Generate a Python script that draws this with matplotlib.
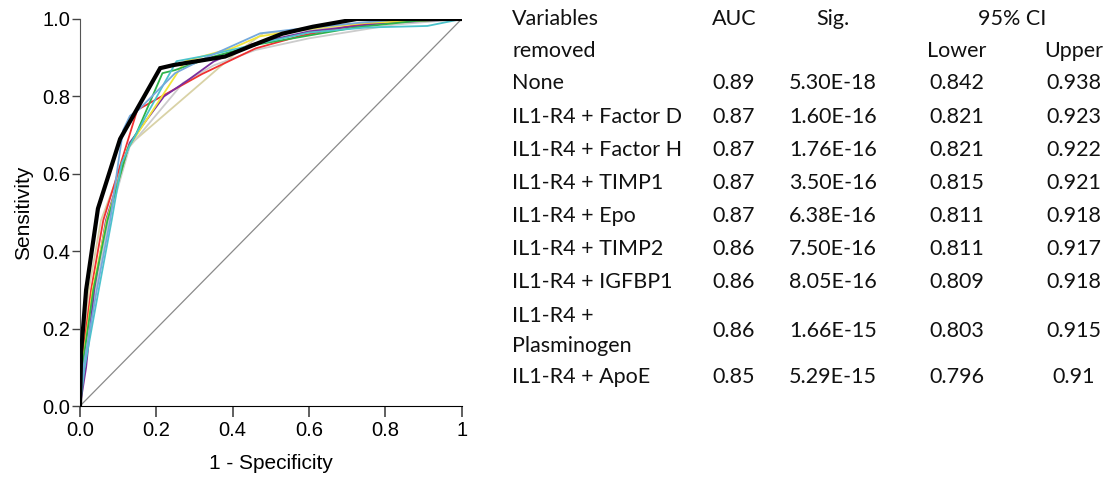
import matplotlib
matplotlib.use("Agg")
import matplotlib.pyplot as plt

# ---------------- data ----------------
variables = ["None", "IL1-R4 + Factor D", "IL1-R4 + Factor H", "IL1-R4 + TIMP1",
             "IL1-R4 + Epo", "IL1-R4 + TIMP2", "IL1-R4 + IGFBP1",
             "IL1-R4 +\nPlasminogen", "IL1-R4 + ApoE"]
auc = ["0.89", "0.87", "0.87", "0.87", "0.87", "0.86", "0.86", "0.86", "0.85"]
sig = ["5.30E-18", "1.60E-16", "1.76E-16", "3.50E-16", "6.38E-16", "7.50E-16",
       "8.05E-16", "1.66E-15", "5.29E-15"]
ci_lower = ["0.842", "0.821", "0.821", "0.815", "0.811", "0.811", "0.809", "0.803", "0.796"]
ci_upper = ["0.938", "0.923", "0.922", "0.921", "0.918", "0.917", "0.918", "0.915", "0.91"]

fpr_none = [0, 0.003, 0.016, 0.047, 0.105, 0.21, 0.245, 0.38, 0.46, 0.53, 0.61, 0.725, 1]
tpr_none = [0, 0.14, 0.30, 0.51, 0.69, 0.873, 0.881, 0.903, 0.935, 0.962, 0.98, 1.0, 1]

fpr_green = [0, 0.006, 0.035, 0.072, 0.125, 0.148, 0.216, 0.249, 0.35, 0.47, 0.72, 0.88, 1]
tpr_green = [0, 0.10, 0.30, 0.48, 0.665, 0.705, 0.86, 0.868, 0.903, 0.935, 0.978, 0.995, 1]

fpr_purple = [0, 0.016, 0.037, 0.068, 0.13, 0.22, 0.28, 0.35, 0.45, 0.6, 0.8, 1]
tpr_purple = [0, 0.10, 0.30, 0.48, 0.68, 0.80, 0.84, 0.89, 0.935, 0.968, 0.99, 1]

fpr_yellow = [0, 0.005, 0.033, 0.07, 0.125, 0.275, 0.4, 0.47, 0.6, 0.75, 1]
tpr_yellow = [0, 0.10, 0.30, 0.48, 0.665, 0.891, 0.925, 0.955, 0.975, 0.99, 1]

fpr_red = [0, 0.003, 0.029, 0.061, 0.15, 0.32, 0.46, 0.58, 0.725, 0.865, 1]
tpr_red = [0, 0.10, 0.30, 0.48, 0.765, 0.858, 0.924, 0.957, 0.985, 0.997, 1]

fpr_blue = [0, 0.009, 0.044, 0.079, 0.10, 0.113, 0.131, 0.153, 0.249, 0.33, 0.472, 0.55, 0.73, 0.85, 1]
tpr_blue = [0, 0.10, 0.30, 0.48, 0.627, 0.713, 0.75, 0.765, 0.86, 0.90, 0.963, 0.972, 0.99, 1.0, 1]

fpr_cyan = [0, 0.012, 0.049, 0.083, 0.109, 0.131, 0.17, 0.223, 0.253, 0.34, 0.47, 0.6, 0.75, 0.91, 1]
tpr_cyan = [0, 0.10, 0.30, 0.48, 0.627, 0.674, 0.744, 0.838, 0.891, 0.907, 0.937, 0.965, 0.978, 0.982, 1]

fpr_gray = [0, 0.007, 0.04, 0.075, 0.13, 0.27, 0.35, 0.46, 0.6, 0.82, 1]
tpr_gray = [0, 0.10, 0.30, 0.48, 0.67, 0.835, 0.88, 0.92, 0.95, 0.985, 1]

fpr_tan = [0, 0.001, 0.023, 0.055, 0.13, 0.33, 0.40, 0.48, 0.6, 0.8, 1]
tpr_tan = [0, 0.10, 0.30, 0.48, 0.675, 0.845, 0.905, 0.963, 0.972, 0.99, 1]

curves = [
    (fpr_tan, tpr_tan, "#d9d2a6", 1.3),
    (fpr_gray, tpr_gray, "#cccccc", 1.3),
    (fpr_red, tpr_red, "#f03030", 1.3),
    (fpr_purple, tpr_purple, "#7b2f9e", 1.3),
    (fpr_yellow, tpr_yellow, "#f2e63a", 1.3),
    (fpr_green, tpr_green, "#2db34a", 1.3),
    (fpr_cyan, tpr_cyan, "#4cc3cc", 1.3),
    (fpr_blue, tpr_blue, "#74a9dc", 1.3),
]

xticks = [0, 0.2, 0.4, 0.6, 0.8, 1]
xticklabels = ["0.0", "0.2", "0.4", "0.6", "0.8", "1"]
yticks = [0, 0.2, 0.4, 0.6, 0.8, 1.0]
yticklabels = ["0.0", "0.2", "0.4", "0.6", "0.8", "1.0"]

# ---------------- figure ----------------
W, H = 1111, 479
fig = plt.figure(figsize=(W / 100, H / 100), dpi=100)
ax = fig.add_axes([80 / W, 1 - 406 / H, (461.7 - 80) / W, (406 - 19) / H])

ax.plot([0, 1], [0, 1], color="#8a8a8a", lw=0.9, zorder=1)
for fx, ty, c, lw in curves:
    ax.plot(fx, ty, color=c, lw=lw, zorder=2)
ax.plot(fpr_none, tpr_none, color="black", lw=3.0, zorder=3, solid_joinstyle="miter")

ax.set_xlim(0, 1)
ax.set_ylim(0, 1)
ax.set_xticks(xticks)
ax.set_xticklabels(xticklabels)
ax.set_yticks(yticks)
ax.set_yticklabels(yticklabels)
for s in ["top", "right"]:
    ax.spines[s].set_visible(False)
ax.spines["left"].set_color("#555555")
ax.spines["bottom"].set_color("black")
ax.tick_params(axis="x", direction="out", length=8, width=1.2, color="#444444",
               labelsize=14.5, pad=3)
ax.tick_params(axis="y", direction="out", length=6, width=1.0, color="#444444",
               labelsize=14.5, pad=1)
for lab in ax.get_xticklabels() + ax.get_yticklabels():
    lab.set_fontfamily("Liberation Sans")
ax.set_xlabel("1 - Specificity", fontsize=15, family="Liberation Sans", labelpad=10)
ax.set_ylabel("Sensitivity", fontsize=15, family="Liberation Sans", labelpad=7)

# ---------------- table ----------------
tfont = dict(family="Lato", fontsize=15.5, color="#111111")
col_var = 512 / W
col_auc = 734 / W
col_sig = 833 / W
col_ci = 1012 / W
col_low = 957 / W
col_up = 1074 / W

def fy(p):
    return 1 - p / H

fig.text(col_var, fy(19), "Variables", ha="left", va="center", **tfont)
fig.text(col_var, fy(51), "removed", ha="left", va="center", **tfont)
fig.text(col_auc, fy(19), "AUC", ha="center", va="center", **tfont)
fig.text(col_sig, fy(19), "Sig.", ha="center", va="center", **tfont)
fig.text(col_ci, fy(19), "95% CI", ha="center", va="center", **tfont)
fig.text(col_low, fy(51), "Lower", ha="center", va="center", **tfont)
fig.text(col_up, fy(51), "Upper", ha="center", va="center", **tfont)

row_y = [83, 117, 150, 183, 216, 249, 282, 331, 377]
for i, y in enumerate(row_y):
    name = variables[i]
    if "\n" in name:
        a, b = name.split("\n")
        fig.text(col_var, fy(y - 15.5), a, ha="left", va="center", **tfont)
        fig.text(col_var, fy(y + 15.5), b, ha="left", va="center", **tfont)
    else:
        fig.text(col_var, fy(y), name, ha="left", va="center", **tfont)
    fig.text(col_auc, fy(y), auc[i], ha="center", va="center", **tfont)
    fig.text(col_sig, fy(y), sig[i], ha="center", va="center", **tfont)
    fig.text(col_low, fy(y), ci_lower[i], ha="center", va="center", **tfont)
    fig.text(col_up, fy(y), ci_upper[i], ha="center", va="center", **tfont)

fig.savefig("out.png", dpi=100, facecolor="white")
